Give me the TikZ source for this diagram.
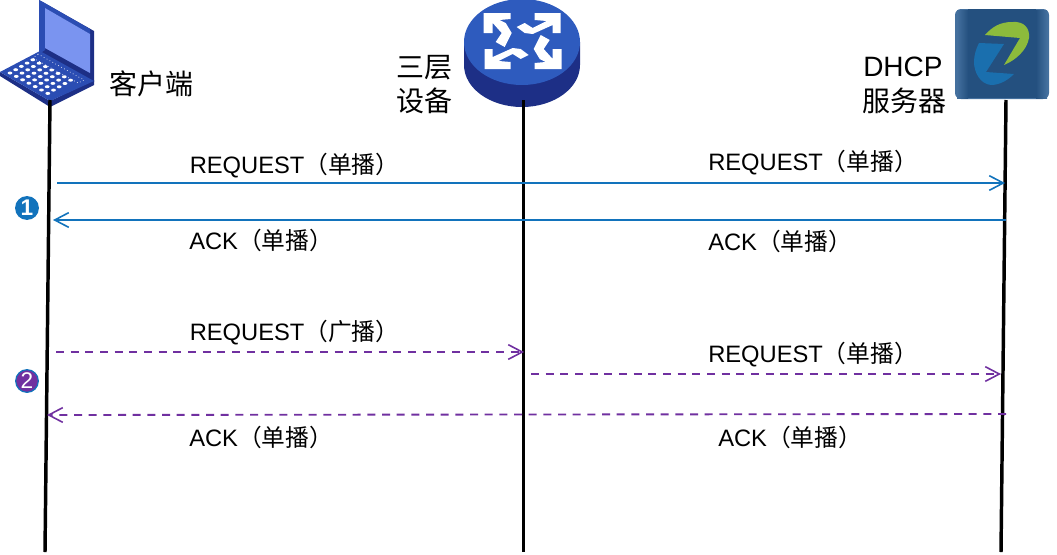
\documentclass[tikz,border=0pt]{standalone}
\usepackage{fontspec}
\setmainfont{Liberation Sans}
\newfontfamily\cjk{Noto Sans CJK SC}
\usetikzlibrary{arrows.meta,calc}
\definecolor{msgblue}{HTML}{1273BC}
\definecolor{msgpurple}{HTML}{7030A0}
\definecolor{devblue}{HTML}{2E5BBE}
\definecolor{devdark}{HTML}{1D2F86}
\definecolor{lapblue}{HTML}{2B4DB3}
\definecolor{lapscreen}{HTML}{7A94F0}
\definecolor{srvblue}{HTML}{24507F}
\definecolor{srvedge}{HTML}{44709E}
\definecolor{zgreen}{HTML}{8DBB3C}
\definecolor{zblue}{HTML}{1A6FAE}
\tikzset{
  lifeline/.style={line width=2.6pt,black},
  msgtip/.style={-{Straight Barb[length=10.5pt,width=11pt,line width=1.2pt]}},
  solidmsg/.style={msgtip,msgblue,line width=1.4pt},
  dashmsg/.style={msgtip,msgpurple,line width=1.4pt,dash pattern=on 6pt off 5pt},
  msgtext/.style={inner sep=0pt,anchor=base west,font=\fontsize{17.8pt}{20pt}\selectfont,text=black},
  titletext/.style={inner sep=0pt,anchor=base west,font=\fontsize{21pt}{24pt}\selectfont,text=black},
  badge/.style={circle,draw=msgblue,line width=0.9pt,minimum size=17pt,inner sep=0pt,text=white,font=\fontsize{17pt}{17pt}\selectfont}
}
\begin{document}
\begin{tikzpicture}[x=0.75pt,y=-0.75pt]
\useasboundingbox (0,0) rectangle (1057,554);
% lifeline ends
\coordinate (cTop) at (50,100); \coordinate (cBot) at (45,552);
\coordinate (mTop) at (523.5,100); \coordinate (mBot) at (523.5,552);
\coordinate (sTop) at (1006,100); \coordinate (sBot) at (1001,552);
% laptop
\fill[devdark] (39,0) -- (94,31) -- (94,82) -- (39,54) -- cycle;
\fill[lapblue] (39,0) -- (43,2) -- (90,29) -- (90,34) -- (45,8) -- (45,50) -- (39,54) -- cycle;
\fill[lapscreen] (45,8) -- (90,34) -- (90,73) -- (45,48) -- cycle;
\fill[devdark] (0,72) -- (50,101) -- (94,80) -- (94,85) -- (50,107) -- (0,76) -- cycle;
\fill[lapblue] (0,72) -- (40,51) -- (94,81) -- (50,101) -- cycle;
\draw[white,line width=0.5pt,dotted] (38,54) -- (84,80) -- (78,83) -- (33,58) -- cycle;
\foreach \i in {0,...,4}{\foreach \j in {0,...,6}{
  \fill[white] ({10+\i*5.7+\j*6.3},{73-\i*3.3+\j*3.4}) ellipse (2.4 and 1.5);
}}
% switch
\fill[devdark] (464,42) -- (464,65) arc[start angle=180,end angle=0,x radius=58,y radius=42] -- (580,42) -- cycle;
\fill[devblue] (522,42) ellipse (58 and 43);
\foreach \a in {1,-1}{
  \begin{scope}[shift={(522.7,41)},xscale=\a,yscale=\a]
    \fill[white] (38,-28) -- (12,-28) -- (12,-21) -- (24,-20) -- (10,-13) -- (2,-18) -- (-6,-14) -- (2,-8) -- (10,-7) -- (30,-16) -- (30,-8) -- (38,-8) -- cycle;
    \fill[white] (-39,-28) -- (-12,-28) -- (-12,-22) -- (-23,-21) -- (-17,-18) -- (-11,-8) -- (-18,6) -- (-27,1) -- (-21,-8) -- (-30,-18) -- (-30,-8) -- (-39,-8) -- cycle;
  \end{scope}
}
% server
\fill[srvedge] (955,15) arc[start angle=180,end angle=270,radius=6] -- (1043,9) arc[start angle=270,end angle=360,radius=6] -- (1049,93) arc[start angle=0,end angle=90,radius=6] -- (961,99) arc[start angle=90,end angle=180,radius=6] -- cycle;
\fill[srvblue] (968,9) rectangle (1036,98);
\shade[left color=srvedge,right color=srvblue] (957,10) rectangle (968,98);
\shade[left color=srvblue,right color=srvedge] (1036,10) rectangle (1047,98);
\fill[zgreen] (985,35) .. controls (992,27) and (1000,22) .. (1012,22) .. controls (1024,21) and (1030,28) .. (1029,38) .. controls (1027,50) and (1016,60) .. (1004,65) -- (1020,38) -- cycle;
\fill[zblue] (979,43) -- (1004,44) -- (986,72) -- (1014,74) .. controls (1008,80) and (1000,85) .. (991,85) .. controls (980,84) and (974,72) .. (974,62) .. controls (974,55) and (976,49) .. (979,43) -- cycle;
% lifelines
\draw[lifeline] (cTop) -- (cBot);
\draw[lifeline] (mTop) -- (mBot);
\draw[lifeline] (sTop) -- (sBot);
% titles
\node[titletext] (tClient) at (109,94) {\cjk 客户端};
\node[titletext] (tThree) at (396,77) {\cjk 三层};
\node[titletext] (tDev) at (396,111) {\cjk 设备};
\node[titletext] (tDhcp) at (863,76) {DHCP};
\node[titletext] (tSrv) at (862,111) {\cjk 服务器};
% message end points
\coordinate (a1) at (57,183); \coordinate (a2) at (1005,183);
\coordinate (b1) at (1006,220); \coordinate (b2) at (53,220);
\coordinate (c1) at (56,352); \coordinate (c2) at (524,352);
\coordinate (d1) at (531,374); \coordinate (d2) at (1001,374);
\coordinate (e1) at (1006,414); \coordinate (e2) at (47,415);
\draw[solidmsg] (a1) -- (a2);
\draw[solidmsg] (b1) -- (b2);
\draw[dashmsg] (c1) -- (c2);
\draw[dashmsg] (d1) -- (d2);
\draw[dashmsg] (e1) -- (e2);
% message labels
\node[msgtext] (l1) at (189.5,173) {REQUEST{\cjk （单播）}};
\node[msgtext] (l2) at (708,170) {REQUEST{\cjk （单播）}};
\node[msgtext] (l3) at (189,249) {ACK{\cjk （单播）}};
\node[msgtext] (l4) at (708,250) {ACK{\cjk （单播）}};
\node[msgtext] (l5) at (189.5,340) {REQUEST{\cjk （广播）}};
\node[msgtext] (l6) at (708,362) {REQUEST{\cjk （单播）}};
\node[msgtext] (l7) at (189,446) {ACK{\cjk （单播）}};
\node[msgtext] (l8) at (718,446) {ACK{\cjk （单播）}};
% badges
\node[badge,fill=msgblue] (n1) at (27,208) {\bfseries 1};
\node[badge,fill=msgpurple] (n2) at (27,381) {2};
\end{tikzpicture}
\end{document}
